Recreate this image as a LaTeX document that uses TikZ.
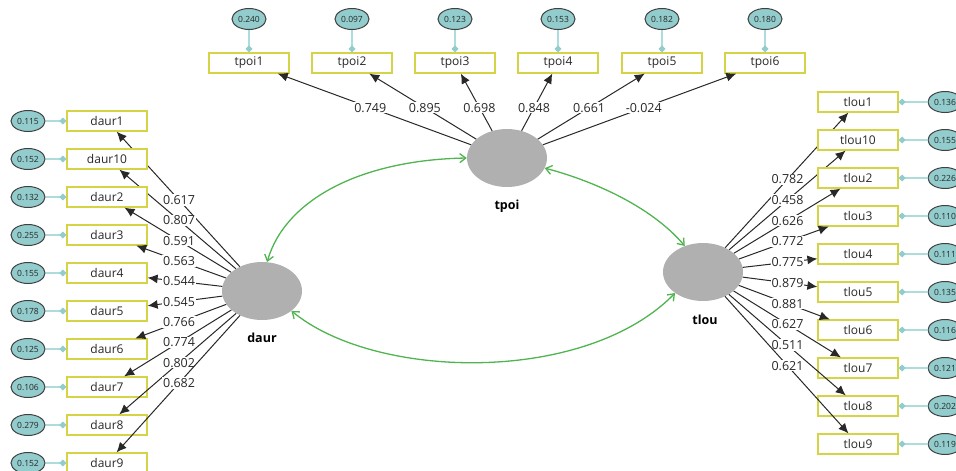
\documentclass[tikz,border=0pt]{standalone}
\usepackage{fontspec}
\setmainfont{Open Sans}
\usetikzlibrary{arrows.meta,calc,shapes.geometric}

\definecolor{boxline}{RGB}{212,212,70}
\definecolor{errfill}{RGB}{146,204,204}
\definecolor{errline}{RGB}{172,220,220}
\definecolor{latfill}{RGB}{176,176,176}
\definecolor{covline}{RGB}{80,180,80}
\definecolor{loadline}{RGB}{40,40,40}
\definecolor{txt}{RGB}{40,40,40}

\tikzset{
  indicator/.style={draw=boxline, line width=1.2pt, fill=white, minimum width=80pt,
    minimum height=20pt, inner sep=0pt, font=\fontsize{12}{14}\selectfont, text=txt},
  errvar/.style={ellipse, draw=black!75, line width=1pt, fill=errfill, minimum width=34pt,
    minimum height=21pt, inner sep=0pt, font=\fontsize{8.5}{10}\selectfont, text=txt},
  latent/.style={ellipse, fill=latfill, minimum width=80pt, minimum height=58pt, inner sep=0pt},
  latlabel/.style={font=\bfseries\fontsize{12.5}{14}\selectfont, text=black},
  errlink/.style={draw=errline, line width=1.3pt,
    -{Turned Square[length=7pt,width=7pt,fill=errfill,color=errfill]}},
  loading/.style={draw=loadline, line width=1pt, -{Latex[length=10pt,width=9pt]}},
  loadlabel/.style={fill=white, inner sep=1pt, font=\fontsize{12.5}{14}\selectfont, text=txt},
  covar/.style={draw=covline, line width=1.3pt,
    {Straight Barb[length=6pt,width=9pt]}-{Straight Barb[length=6pt,width=9pt]}},
}

\begin{document}
\begin{tikzpicture}[x=1pt,y=-1pt]
\useasboundingbox (0,0) rectangle (956,471);
\clip (0,0) rectangle (956,471);

% latent constructs
\node[latent] (tpoi) at (507,158) {};
\node[latlabel] (tpoiname) at (507,206) {tpoi};
\node[latent] (daur) at (262,291) {};
\node[latlabel] (daurname) at (262,338) {daur};
\node[latent] (tlou) at (703,272) {};
\node[latlabel] (tlouname) at (705,320) {tlou};

% tpoi indicators (top row)
\foreach \k/\xx/\ev/\lv in {1/249/0.240/0.749, 2/352/0.097/0.895, 3/455/0.123/0.698,
                            4/558/0.153/0.848, 5/662/0.182/0.661, 6/765/0.180/-0.024}{
  \node[indicator] (tpoi\k) at (\xx,63) {tpoi\k};
  \node[errvar] (etpoi\k) at (\xx,19) {\ev};
  \draw[errlink] (etpoi\k) -- (tpoi\k);
  \draw[loading] (tpoi) -- (tpoi\k);
  \node[loadlabel] (ltpoi\k) at ($(tpoi.center)!0.53!(tpoi\k.center)$) {\lv};
}

% daur indicators (left column)
\foreach \k/\yy/\ev/\lv in {1/121/0.115/0.617, 10/159/0.152/0.807, 2/197/0.132/0.591,
                            3/235/0.255/0.563, 4/273/0.155/0.544, 5/311/0.178/0.545,
                            6/349/0.125/0.766, 7/387/0.106/0.774, 8/425/0.279/0.802,
                            9/463/0.152/0.682}{
  \node[indicator] (daur\k) at (107,\yy) {daur\k};
  \node[errvar] (edaur\k) at (28,\yy) {\ev};
  \draw[errlink] (edaur\k) -- (daur\k);
  \draw[loading] (daur) -- (daur\k);
  \node[loadlabel] (ldaur\k) at ($(daur.center)!0.535!(daur\k.center)$) {\lv};
}

% tlou indicators (right column)
\foreach \k/\yy/\ev/\lv in {1/102/0.136/0.782, 10/140/0.155/0.458, 2/178/0.226/0.626,
                            3/216/0.110/0.772, 4/254/0.111/0.775, 5/292/0.135/0.879,
                            6/330/0.116/0.881, 7/368/0.121/0.627, 8/406/0.202/0.511,
                            9/444/0.119/0.621}{
  \node[indicator] (tlou\k) at (858,\yy) {tlou\k};
  \node[errvar] (etlou\k) at (945,\yy) {\ev};
  \draw[errlink] (etlou\k) -- (tlou\k);
  \draw[loading] (tlou) -- (tlou\k);
  \node[loadlabel] (ltlou\k) at ($(tlou.center)!0.545!(tlou\k.center)$) {\lv};
}

% correlations between constructs
\draw[covar] (daur.80) .. controls (285,200) and (360,160) .. (tpoi.west);
\draw[covar] (tpoi.-15) .. controls (590,180) and (650,205) .. (tlou.125);
\draw[covar] (daur.-34) .. controls (375,380) and (585,385) .. (tlou.217);
\end{tikzpicture}
\end{document}
